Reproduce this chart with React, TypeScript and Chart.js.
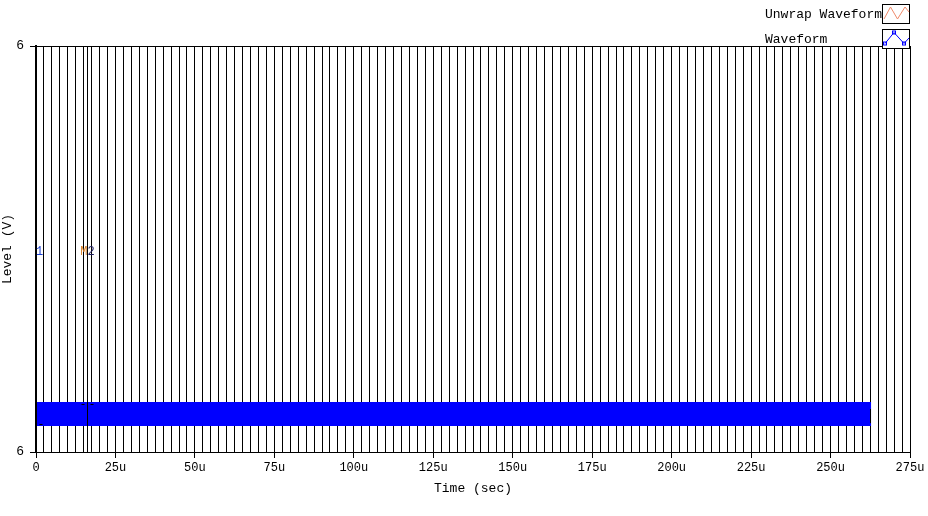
import React, { useEffect, useRef } from 'react';
import { Chart, registerables } from 'chart.js';

Chart.register(...registerables);

// ---- data (time in µs, level in V) ----
const seriesNames = ['Unwrap Waveform', 'Waveform'];
const seriesColors = ['#f08a6a', '#0000ff'];
const unwrapTime: number[] = [];
const unwrapLevel: number[] = [];
const waveformTime = [0, 262.8];
const waveformUpper = [5.9246, 5.9246];
const waveformLower = [5.9128, 5.9128];
const waveformEndMarker = { time: 262.5, low: 5.9142, high: 5.9212 };
const markerNames = ['M1', 'M2'];
const markerTimes = [0, 16.2];
const markerLevels = [5.9138, 5.9236];
const markerLabelLevel = 5.9985;
const xMajorTicks = [0, 25, 50, 75, 100, 125, 150, 175, 200, 225, 250, 275];
const xMinorStep = 2.5;
const xRange = [0, 275];
const yTickValues = [5.9, 6.1];

const FONT = "'Liberation Mono', 'DejaVu Sans Mono', monospace";

const overlayPlugin = {
  id: 'overlay',
  afterDatasetsDraw(chart: any) {
    const { ctx, chartArea, scales } = chart;
    const xs = scales.x;
    const ys = scales.y;
    ctx.save();
    ctx.beginPath();
    ctx.rect(chartArea.left, chartArea.top, chartArea.right - chartArea.left, chartArea.bottom - chartArea.top);
    ctx.clip();
    ctx.strokeStyle = '#000';
    ctx.lineWidth = 1;
    {
      const x = Math.round(xs.getPixelForValue(waveformEndMarker.time)) + 0.5;
      ctx.beginPath();
      ctx.moveTo(x, ys.getPixelForValue(waveformEndMarker.high));
      ctx.lineTo(x, ys.getPixelForValue(waveformEndMarker.low));
      ctx.stroke();
    }
    markerTimes.forEach((t, i) => {
      const x = Math.round(xs.getPixelForValue(t)) + 0.5;
      ctx.beginPath();
      ctx.moveTo(x, chartArea.top);
      ctx.lineTo(x, chartArea.bottom);
      ctx.stroke();
      const y = Math.round(ys.getPixelForValue(markerLevels[i])) + 0.5;
      ctx.beginPath();
      ctx.moveTo(x - 6, y);
      ctx.lineTo(x - 3, y);
      ctx.moveTo(x + 3, y);
      ctx.lineTo(x + 6, y);
      ctx.stroke();
    });
    ctx.font = `12px ${FONT}`;
    ctx.textBaseline = 'middle';
    ctx.textAlign = 'left';
    markerNames.forEach((name, i) => {
      const x = xs.getPixelForValue(markerTimes[i]);
      const y = ys.getPixelForValue(markerLabelLevel);
      const w = ctx.measureText(name).width;
      const mW = ctx.measureText(name[0]).width;
      const sx = x - w / 2;
      if (i === 0) {
        ctx.fillStyle = '#1a3fd0';
        ctx.fillText(name, sx, y);
      } else {
        ctx.fillStyle = '#d9822b';
        ctx.fillText(name[0], sx, y);
        ctx.fillStyle = '#1a1a60';
        ctx.fillText(name.slice(1), sx + mW, y);
      }
    });
    ctx.restore();
  },
  afterDraw(chart: any) {
    const { ctx } = chart;
    ctx.save();
    ctx.font = `13px ${FONT}`;
    ctx.textBaseline = 'middle';
    ctx.textAlign = 'left';
    const rows = [
      { y: 15, box: [882.5, 4.5, 27, 19] },
      { y: 40, box: [882.5, 29.5, 27, 19] },
    ];
    seriesNames.forEach((name, i) => {
      ctx.fillStyle = '#000';
      ctx.fillText(name, 765, rows[i].y);
      const [bx, by, bw, bh] = rows[i].box;
      ctx.fillStyle = '#fff';
      ctx.fillRect(bx, by, bw, bh);
      ctx.strokeStyle = '#000';
      ctx.lineWidth = 1;
      ctx.strokeRect(bx, by, bw, bh);
    });
    ctx.strokeStyle = seriesColors[0];
    ctx.lineWidth = 1;
    ctx.beginPath();
    ctx.moveTo(884, 19);
    ctx.lineTo(890.5, 7);
    ctx.lineTo(897.5, 19);
    ctx.lineTo(905, 7);
    ctx.lineTo(909, 12);
    ctx.stroke();
    ctx.strokeStyle = seriesColors[1];
    ctx.beginPath();
    ctx.moveTo(885, 43.5);
    ctx.lineTo(894, 32.5);
    ctx.lineTo(904, 43.5);
    ctx.lineTo(909, 38);
    ctx.stroke();
    [[885, 43.5], [894, 32.5], [904, 43.5]].forEach(([px, py]) => {
      ctx.strokeRect(px - 1.5, py - 1.5, 3, 3);
    });
    ctx.restore();
  },
};

export default function App() {
  const ref = useRef<HTMLCanvasElement | null>(null);
  useEffect(() => {
    if (!ref.current) return;
    const chart = new Chart(ref.current, {
      type: 'line',
      data: {
        datasets: [
          {
            label: seriesNames[0],
            data: unwrapTime.map((t, i) => ({ x: t, y: unwrapLevel[i] })),
            borderColor: seriesColors[0],
            pointRadius: 0,
          },
          {
            label: seriesNames[1],
            data: waveformTime.map((t, i) => ({ x: t, y: waveformUpper[i] })),
            borderColor: seriesColors[1],
            backgroundColor: seriesColors[1],
            borderWidth: 0,
            pointRadius: 0,
            fill: '+1',
          },
          {
            label: seriesNames[1] + ' (low)',
            data: waveformTime.map((t, i) => ({ x: t, y: waveformLower[i] })),
            borderColor: seriesColors[1],
            borderWidth: 0,
            pointRadius: 0,
            fill: false,
          },
        ],
      },
      options: {
        responsive: false,
        animation: false,
        layout: { padding: { left: 0, right: 18, top: 46, bottom: 0 } },
        plugins: { legend: { display: false }, tooltip: { enabled: false }, title: { display: false } },
        scales: {
          x: {
            type: 'linear',
            min: xRange[0],
            max: xRange[1],
            afterFit: (s: any) => {
              s.height = 64;
            },
            afterBuildTicks: (s: any) => {
              const ticks: any[] = [];
              const n = Math.round((xRange[1] - xRange[0]) / xMinorStep);
              for (let i = 0; i <= n; i++) ticks.push({ value: xRange[0] + i * xMinorStep });
              s.ticks = ticks;
            },
            ticks: {
              autoSkip: false,
              maxRotation: 0,
              minRotation: 0,
              color: '#000',
              padding: 3,
              font: { family: FONT, size: 12 },
              callback: (v: any) => {
                const val = Number(v);
                if (!xMajorTicks.some((m) => Math.abs(m - val) < 1e-6)) return '';
                return val === 0 ? '0' : `${Math.round(val)}u`;
              },
            },
            grid: {
              color: '#000',
              lineWidth: 1,
              tickLength: 6,
              tickColor: (c: any) => {
                const val = c.tick ? c.tick.value : 0;
                return xMajorTicks.some((m) => Math.abs(m - val) < 1e-6) ? '#000' : 'rgba(0,0,0,0)';
              },
            },
            border: { color: '#000', width: 1 },
            title: {
              display: true,
              text: 'Time (sec)',
              color: '#000',
              font: { family: FONT, size: 13 },
              padding: { top: 0, bottom: 20 },
            },
          },
          y: {
            type: 'linear',
            min: yTickValues[0],
            max: yTickValues[yTickValues.length - 1],
            afterFit: (s: any) => {
              s.width = 36;
            },
            afterBuildTicks: (s: any) => {
              s.ticks = yTickValues.map((v) => ({ value: v }));
            },
            ticks: {
              color: '#000',
              padding: 6,
              font: { family: FONT, size: 13 },
              callback: (v: any) => `${Math.round(Number(v))}`,
            },
            grid: { color: '#000', lineWidth: 1, tickLength: 6, tickColor: '#000' },
            border: { color: '#000', width: 2 },
            title: {
              display: true,
              text: 'Level (V)',
              color: '#000',
              font: { family: FONT, size: 13 },
              padding: { top: 0, bottom: 0 },
            },
          },
        },
      },
      plugins: [overlayPlugin],
    } as any);
    return () => chart.destroy();
  }, []);
  return (
    <div style={{ position: 'fixed', left: 0, top: 0, width: 928, height: 516, background: '#fff' }}>
      <canvas ref={ref} width={928} height={516} style={{ width: 928, height: 516, display: 'block' }} />
    </div>
  );
}
